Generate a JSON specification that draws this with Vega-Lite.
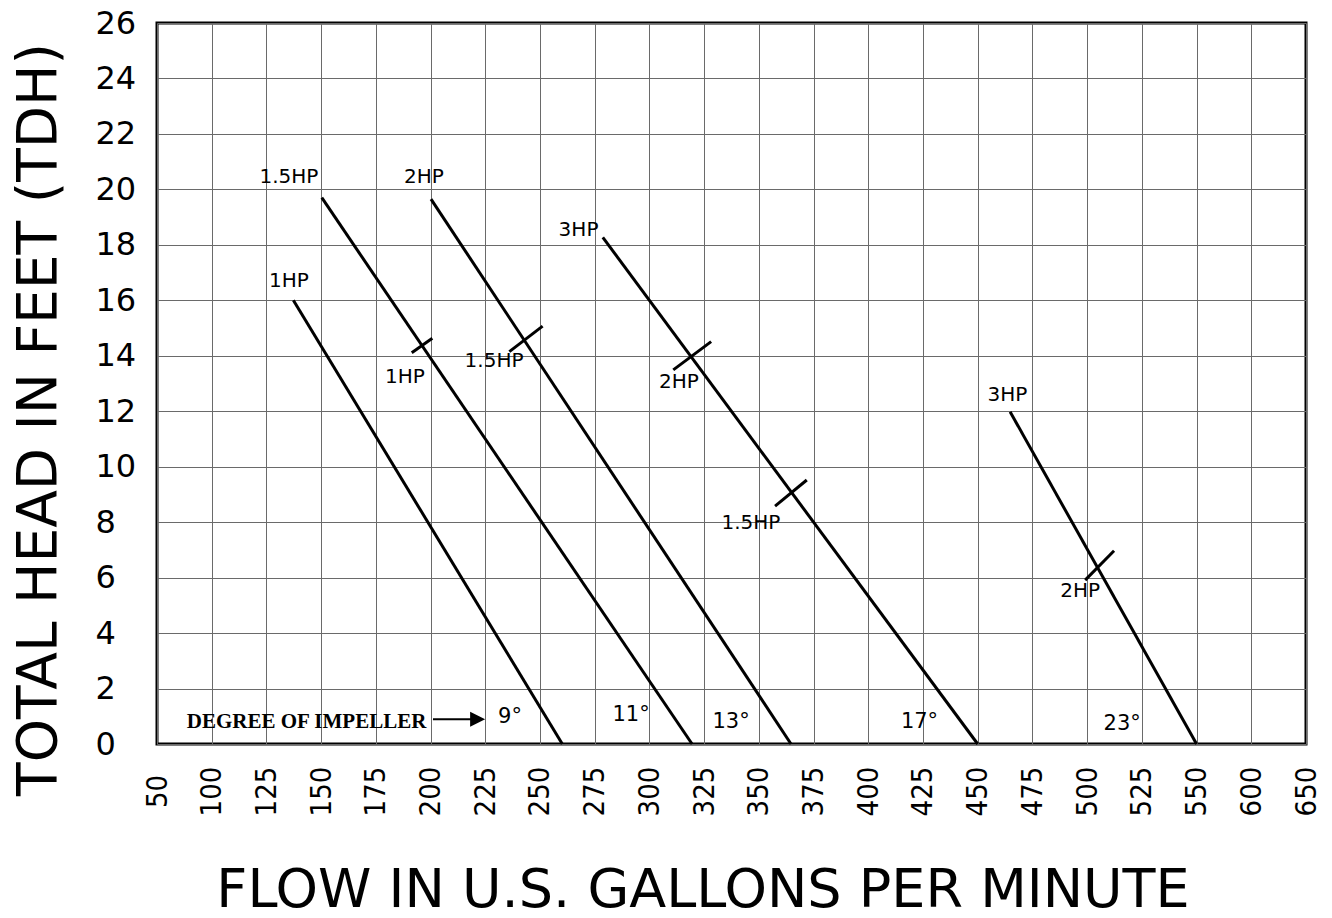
{
  "$schema": "https://vega.github.io/schema/vega-lite/v6.json",
  "width": 1149,
  "height": 721,
  "autosize": {"type": "none"},
  "padding": {"left": 157, "top": 23, "right": 26, "bottom": 174},
  "background": "white",
  "config": {
    "view": {"stroke": "black", "strokeWidth": 3},
    "font": "DejaVu Sans"
  },
  "datasets": {
    "curves": [
      {"impeller": "9°", "x1": 137.3, "y1": 16.0, "x2": 260.2, "y2": 0},
      {"impeller": "11°", "x1": 150.3, "y1": 19.7, "x2": 319.5, "y2": 0},
      {"impeller": "13°", "x1": 200.2, "y1": 19.65, "x2": 364.7, "y2": 0},
      {"impeller": "17°", "x1": 278.7, "y1": 18.27, "x2": 450, "y2": 0},
      {"impeller": "23°", "x1": 464.8, "y1": 11.98, "x2": 550, "y2": 0}
    ],
    "hpmarks": [
      {"hp": "1HP", "x1": 191.4, "y1": 14.11, "x2": 200.8, "y2": 14.63},
      {"hp": "1.5HP", "x1": 236.0, "y1": 14.15, "x2": 251.2, "y2": 15.07},
      {"hp": "2HP", "x1": 310.9, "y1": 13.49, "x2": 328.2, "y2": 14.51},
      {"hp": "1.5HP", "x1": 357.4, "y1": 8.58, "x2": 371.9, "y2": 9.52},
      {"hp": "2HP", "x1": 499.1, "y1": 5.91, "x2": 512.3, "y2": 6.97}
    ],
    "hplabels": [
      {"text": "1HP", "x": 135.3, "y": 16.68},
      {"text": "1.5HP", "x": 135.3, "y": 20.43},
      {"text": "2HP", "x": 197, "y": 20.43},
      {"text": "3HP", "x": 267.6, "y": 18.54},
      {"text": "3HP", "x": 463.6, "y": 12.57},
      {"text": "1HP", "x": 188.3, "y": 13.25},
      {"text": "1.5HP", "x": 229, "y": 13.81},
      {"text": "2HP", "x": 313.5, "y": 13.04},
      {"text": "1.5HP", "x": 346.4, "y": 7.97},
      {"text": "2HP", "x": 496.8, "y": 5.52}
    ],
    "degrees": [
      {"text": "9°", "x": 236.3, "y": 0.97},
      {"text": "11°", "x": 291.6, "y": 1.05},
      {"text": "13°", "x": 337.3, "y": 0.79},
      {"text": "17°", "x": 423.4, "y": 0.79},
      {"text": "23°", "x": 516, "y": 0.72}
    ],
    "note": [
      {"text": "DEGREE OF IMPELLER", "x": 77.2, "y": 0.577}
    ],
    "arrow": [
      {"x1": 201.1, "x2": 221.5, "y": 0.89}
    ]
  },
  "layer": [
    {
      "data": {"name": "curves"},
      "mark": {"type": "rule", "color": "black", "strokeWidth": 3},
      "encoding": {
        "x": {
          "field": "x1",
          "type": "quantitative",
          "scale": {"domain": [50, 100, 550, 650], "range": [0, 54.714, 1039.57, 1149], "zero": false, "nice": false},
          "axis": {
            "values": [50, 100, 125, 150, 175, 200, 225, 250, 275, 300, 325, 350, 375, 400, 425, 450, 475, 500, 525, 550, 600, 650],
            "title": "FLOW IN U.S. GALLONS PER MINUTE",
            "titleFont": "DejaVu Sans",
            "titleFontSize": 54,
            "titleFontWeight": "normal",
            "titleColor": "black",
            "titleX": 545.5,
            "titleY": 162,
            "titleAlign": "center",
            "titleBaseline": "alphabetic",
            "labelAngle": 270,
            "labelAlign": "center",
            "labelBaseline": "middle",
            "labelPadding": 47,
            "labelFont": "DejaVu Sans Condensed, DejaVu Sans",
            "labelFontSize": 29,
            "labelColor": "black",
            "labelOverlap": false,
            "labelFlush": false,
            "ticks": false,
            "tickSize": 0,
            "domain": false,
            "grid": true,
            "gridColor": "#6a6a6a",
            "gridWidth": 1
          }
        },
        "x2": {"field": "x2"},
        "y": {
          "field": "y1",
          "type": "quantitative",
          "scale": {"domain": [0, 26], "zero": false, "nice": false},
          "axis": {
            "values": [0, 2, 4, 6, 8, 10, 12, 14, 16, 18, 20, 22, 24, 26],
            "title": "TOTAL HEAD IN FEET (TDH)",
            "titleFont": "DejaVu Sans",
            "titleFontSize": 55,
            "titleFontWeight": "normal",
            "titleColor": "black",
            "titleAngle": 270,
            "titleX": -118.5,
            "titleY": 396,
            "titleAlign": "center",
            "titleBaseline": "middle",
            "labelAlign": "left",
            "labelBaseline": "middle",
            "labelPadding": 62,
            "labelFont": "DejaVu Sans",
            "labelFontSize": 32,
            "labelColor": "black",
            "labelOverlap": false,
            "labelFlush": false,
            "ticks": false,
            "tickSize": 0,
            "domain": false,
            "grid": true,
            "gridColor": "#6a6a6a",
            "gridWidth": 1
          }
        },
        "y2": {"field": "y2"}
      }
    },
    {
      "data": {"name": "hpmarks"},
      "mark": {"type": "rule", "color": "black", "strokeWidth": 3},
      "encoding": {
        "x": {"field": "x1", "type": "quantitative"},
        "x2": {"field": "x2"},
        "y": {"field": "y1", "type": "quantitative"},
        "y2": {"field": "y2"}
      }
    },
    {
      "data": {"name": "hplabels"},
      "mark": {"type": "text", "font": "DejaVu Sans", "fontSize": 20, "color": "black", "align": "center", "baseline": "middle"},
      "encoding": {
        "x": {"field": "x", "type": "quantitative"},
        "y": {"field": "y", "type": "quantitative"},
        "text": {"field": "text"}
      }
    },
    {
      "data": {"name": "degrees"},
      "mark": {"type": "text", "font": "DejaVu Sans", "fontSize": 21, "color": "black", "align": "center", "baseline": "middle"},
      "encoding": {
        "x": {"field": "x", "type": "quantitative"},
        "y": {"field": "y", "type": "quantitative"},
        "text": {"field": "text"}
      }
    },
    {
      "data": {"name": "note"},
      "mark": {"type": "text", "font": "Liberation Serif", "fontWeight": "bold", "fontSize": 21, "color": "black", "align": "left", "baseline": "alphabetic"},
      "encoding": {
        "x": {"field": "x", "type": "quantitative"},
        "y": {"field": "y", "type": "quantitative"},
        "text": {"field": "text"}
      }
    },
    {
      "data": {"name": "arrow"},
      "mark": {"type": "rule", "color": "black", "strokeWidth": 2},
      "encoding": {
        "x": {"field": "x1", "type": "quantitative"},
        "x2": {"field": "x2"},
        "y": {"field": "y", "type": "quantitative"}
      }
    },
    {
      "data": {"name": "arrow"},
      "mark": {"type": "point", "shape": "M -1 -1 L 1 0 L -1 1 Z", "size": 225, "filled": true, "color": "black", "opacity": 1, "strokeWidth": 0},
      "encoding": {
        "x": {"field": "x2", "type": "quantitative"},
        "y": {"field": "y", "type": "quantitative"}
      }
    }
  ]
}
